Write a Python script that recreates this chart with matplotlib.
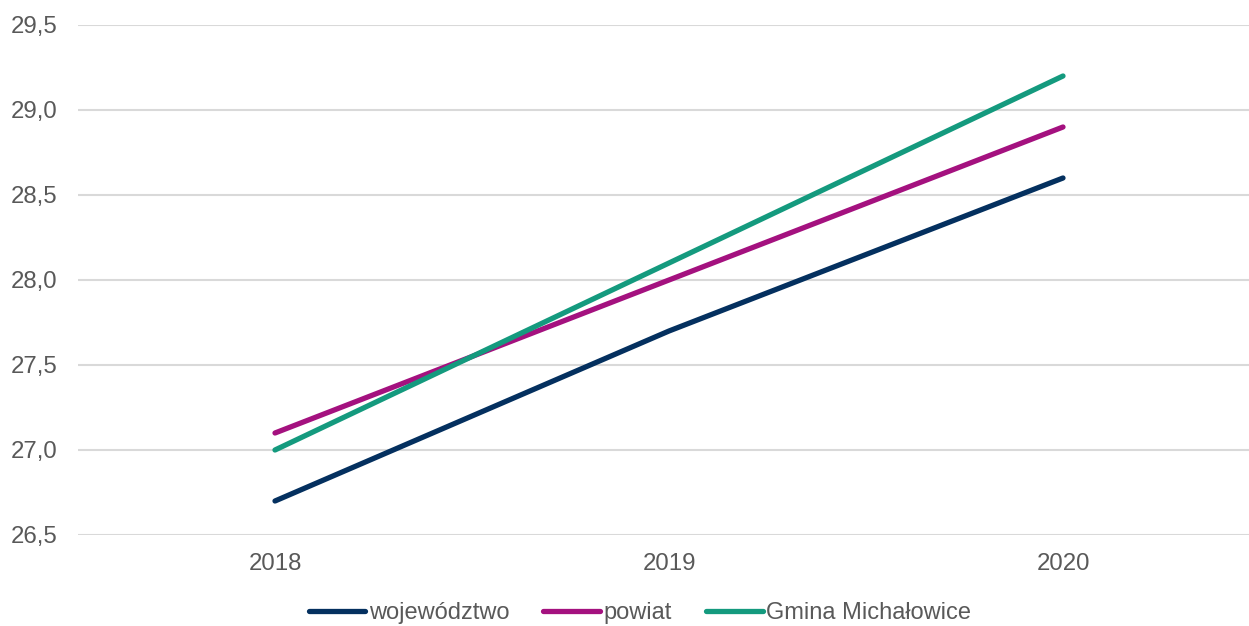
import matplotlib.pyplot as plt
from matplotlib.ticker import FuncFormatter

years = ["2018", "2019", "2020"]
wojewodztwo = [26.7, 27.7, 28.6]
powiat = [27.1, 28.0, 28.9]
gmina = [27.0, 28.1, 29.2]

series_names = ["województwo", "powiat", "Gmina Michałowice"]
series_colors = ["#04305f", "#a4117f", "#149a7e"]

plt.rcParams['font.family'] = ['Liberation Sans', 'DejaVu Sans']

fig = plt.figure(figsize=(12.49, 6.26), dpi=100)
ax = fig.add_axes([78 / 1249, 1 - 535 / 626, 1 - 78 / 1249, (535 - 25) / 626])

x = list(range(len(years)))
for vals, name, col in zip([wojewodztwo, powiat, gmina], series_names, series_colors):
    ax.plot(x, vals, color=col, lw=3.8, solid_capstyle='round', label=name)

ax.set_xlim(-0.5, 2 + (1249 - 1063) / 394)
ax.set_ylim(26.5, 29.5)
ax.set_yticks([26.5, 27.0, 27.5, 28.0, 28.5, 29.0, 29.5])
ax.yaxis.set_major_formatter(FuncFormatter(lambda v, p: f"{v:.1f}".replace('.', ',')))
ax.set_xticks(x)
ax.set_xticklabels(years)

ax.tick_params(axis='both', length=0, labelsize=17.3, colors='#595959')
ax.tick_params(axis='y', pad=15)
ax.tick_params(axis='x', pad=13)
ax.grid(axis='y', color='#d9d9d9', lw=1.5)
ax.set_axisbelow(True)
for s in ax.spines.values():
    s.set_visible(False)

fig.legend(loc='center', bbox_to_anchor=(640 / 1249, 1 - 613 / 626), ncol=3,
           frameon=False, fontsize=17, handlelength=2.4, handletextpad=0.15,
           columnspacing=1.45, labelcolor='#595959')

fig.savefig("out.png", dpi=100)
